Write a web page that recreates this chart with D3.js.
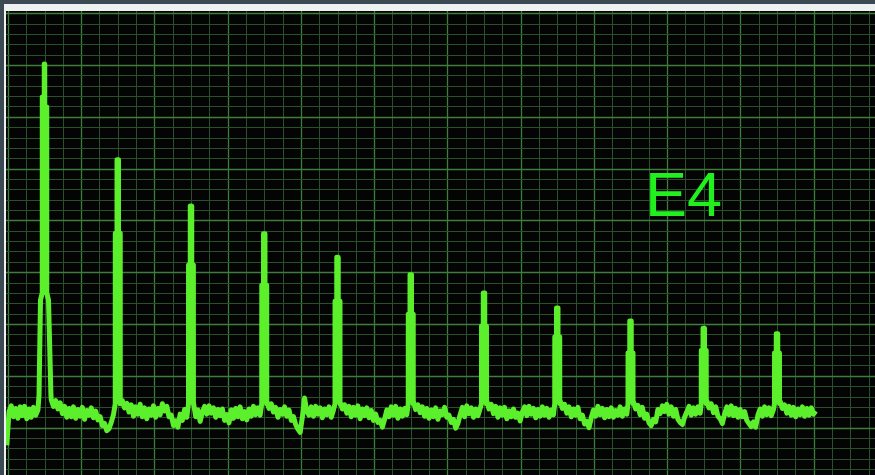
<!DOCTYPE html>
<html><head><meta charset="utf-8">
<script src="https://cdn.jsdelivr.net/npm/d3@7"></script>
<style>html,body{margin:0;padding:0;background:#3b4953;overflow:hidden}</style>
</head><body><svg id="c" width="875" height="475"></svg>
<script>
// ---- data ----
const noteLabel = "E4";
const fundamentalHz = 329.63;
const noiseStartHz = 160;
const noiseStepHz = 10;
// noise floor readings (dB) every 10 Hz; null where a harmonic peak trace takes over
const noiseDb = [
-83.4,-76.9,-75.8,-77.9,-76.3,-78.2,-76.0,-77.7,-75.9,-78.3,
-76.4,-78.0,-76.1,-77.6,-76.6,null,null,null,null,null,
-74.6,-75.9,-74.8,-76.4,-75.2,-77.3,-75.9,-78.0,-76.3,-77.9,
-76.0,-78.2,-76.5,-77.8,-76.1,-78.4,-76.7,-77.6,-76.2,-78.1,
-76.8,-78.5,-77.9,-79.6,-79.2,-80.6,-80.2,-79.0,-77.5,null,
null,null,-74.8,-76.2,-75.3,-77.0,-75.6,-77.8,-76.0,-77.4,
-75.5,-77.9,-76.2,-78.3,-76.4,-77.6,-75.8,-78.0,-76.3,-77.5,
-75.4,-76.8,-75.9,-77.9,-77.6,-79.6,-78.7,-79.9,-77.4,-78.6,
-76.5,-78.0,null,null,-75.2,-77.9,-76.6,-78.8,-77.0,-75.9,
-77.4,-75.8,-77.2,-76.2,-78.0,-76.5,-77.7,-76.4,-78.6,-77.5,
-79.1,-76.6,-78.2,-76.3,-77.9,-76.0,-78.3,-76.9,-78.5,-76.4,
-77.8,-75.9,-77.5,-76.2,-77.6,null,null,-74.9,-76.3,-75.4,
-77.0,-76.1,-78.0,-76.5,-77.4,-76.0,-77.8,-76.6,-78.6,-77.9,
-79.4,-80.3,-80.9,-78.0,-74.3,-76.9,-77.6,-76.0,-77.8,-75.9,
-77.4,-76.2,-78.1,-76.4,-77.5,-76.0,-78.0,-76.6,null,null,
-75.1,-76.4,-75.6,-77.2,-75.9,-77.9,-76.1,-77.6,-75.8,-78.3,
-76.4,-77.7,-76.2,-78.1,-76.7,-78.6,-77.4,-79.0,-78.6,-79.9,
-78.4,-76.6,-77.9,-76.0,-77.6,-75.9,-78.2,-76.4,-77.8,-76.3,
-77.5,null,null,-75.0,-76.5,-75.6,-77.1,-76.0,-77.8,-76.3,
-78.2,-76.6,-77.9,-76.2,-78.4,-76.8,-77.5,-76.1,-78.0,-77.6,
-79.0,-78.4,-80.1,-79.2,-77.5,-76.1,-77.9,-75.8,-77.3,-76.2,
-78.0,-76.4,-77.7,-76.3,null,null,-74.9,-76.4,-75.5,-77.3,
-75.9,-78.0,-76.2,-77.6,-76.1,-78.3,-76.8,-77.9,-76.4,-78.0,
-77.2,-78.7,-77.0,-76.0,-77.7,-75.9,-77.4,-76.3,-78.1,-76.5,
-77.8,-76.0,-77.6,-76.3,-78.0,-76.6,-77.5,null,null,-74.8,
-76.3,-75.5,-77.2,-76.0,-77.9,-76.4,-77.6,-76.1,-78.3,-77.6,
-79.3,-78.8,-80.0,-78.1,-76.6,-77.8,-75.9,-77.5,-76.3,-78.1,
-76.5,-77.9,-76.2,-78.0,-76.7,-77.6,-76.0,-77.8,-76.4,-77.4,
null,null,-75.0,-76.4,-75.7,-77.5,-76.1,-78.2,-77.4,-79.1,
-79.6,-78.4,-78.9,-76.5,-77.3,-75.8,-76.9,-75.5,-77.4,-76.0,
-77.8,-76.5,-78.4,-79.0,-79.4,-78.0,-77.0,-75.9,-77.6,-76.2,
-77.4,-76.0,-77.2,null,null,-74.8,-76.2,-75.4,-77.1,-76.0,
-77.8,-78.3,-79.2,-77.4,-76.0,-77.5,-75.8,-77.7,-76.3,-78.0,
-76.5,-77.9,-76.9,-78.6,-79.2,-79.8,-78.9,-79.9,-77.6,-76.4,
-77.8,-76.0,-77.5,-76.2,-77.7,-76.5,null,null,-74.9,-76.3,
-75.6,-77.2,-75.9,-77.6,-76.1,-77.9,-76.4,-77.5,-76.0,-77.8,
-76.3,-77.6,-76.2,-77.4,-76.8
];
// harmonic peak traces [Hz, dB]
const peakTraces = [
 [[305.0,-73.7],[311.6,-55.4],[319.5,-54.0],[319.6,-16.2],[328.5,-16.2],[328.6,-9.8],[330.7,-9.8],[330.8,-18.1],[339.7,-18.1],[339.8,-54.0],[347.6,-55.4],[358.6,-73.7]],
 [[648.0,-75.4],[648.2,-42.5],[655.9,-42.5],[656.0,-28.3],[662.6,-28.3],[662.7,-42.5],[670.4,-42.5],[670.6,-75.4]],
 [[977.6,-75.4],[977.8,-48.6],[985.5,-48.6],[985.6,-37.2],[992.2,-37.2],[992.3,-48.6],[999.6,-48.6],[999.8,-75.4]],
 [[1307.2,-75.4],[1307.4,-52.5],[1315.1,-52.5],[1315.2,-42.6],[1321.8,-42.6],[1321.9,-52.5],[1329.6,-52.5],[1329.8,-75.4]],
 [[1636.9,-75.4],[1637.1,-55.6],[1644.8,-55.6],[1644.9,-47.1],[1651.5,-47.1],[1651.6,-55.6],[1659.3,-55.6],[1659.5,-75.4]],
 [[1966.5,-75.4],[1966.7,-58.1],[1974.4,-58.1],[1974.5,-50.5],[1981.1,-50.5],[1981.2,-58.1],[1988.9,-58.1],[1989.1,-75.4]],
 [[2296.1,-75.4],[2296.3,-60.4],[2304.0,-60.4],[2304.1,-54.0],[2310.7,-54.0],[2310.8,-60.4],[2318.5,-60.4],[2318.7,-75.4]],
 [[2625.7,-75.4],[2625.9,-62.5],[2633.6,-62.5],[2633.7,-56.9],[2640.3,-56.9],[2640.4,-62.5],[2648.1,-62.5],[2648.3,-75.4]],
 [[2955.4,-75.4],[2955.6,-65.6],[2963.3,-65.6],[2963.4,-59.4],[2970.0,-59.4],[2970.1,-65.6],[2977.8,-65.6],[2978.0,-75.4]],
 [[3285.0,-75.4],[3285.2,-65.1],[3292.9,-65.1],[3293.0,-60.8],[3299.6,-60.8],[3299.7,-65.1],[3307.4,-65.1],[3307.6,-75.4]],
 [[3614.6,-75.4],[3614.8,-65.6],[3622.5,-65.6],[3622.6,-61.9],[3629.2,-61.9],[3629.3,-65.6],[3637.0,-65.6],[3637.2,-75.4]]
];
const dbDomain = [-90, 0];
const dbGridStep = 2, dbGridMajorEvery = 5;
const hzGridSubdiv = 4;

// ---- drawing ----
const W = 875, H = 475;
const plot = {left: 6, top: 11, right: 875, bottom: 475};
const svg = d3.select("#c");

const x = d3.scaleLinear().domain([0, 4000]).range([-28.75, 860.14]);
const y = d3.scaleLinear().domain(dbDomain).range([479.4, 13.2]);

// frame
svg.append("rect").attr("x", 4).attr("y", 4).attr("width", W - 4).attr("height", H - 4).attr("fill", "#eef0f1");
svg.append("rect").attr("x", plot.left).attr("y", plot.top)
  .attr("width", plot.right - plot.left).attr("height", plot.bottom - plot.top).attr("fill", "#030403");

svg.append("clipPath").attr("id", "pc").append("rect")
  .attr("x", plot.left).attr("y", plot.top)
  .attr("width", plot.right - plot.left).attr("height", plot.bottom - plot.top);

const g = svg.append("g").attr("clip-path", "url(#pc)");

// graticule
const vLines = d3.range(0, 48).map(j => ({hz: (j / hzGridSubdiv + 0.5) * fundamentalHz, major: j % hzGridSubdiv === 0}));
const hLines = d3.range(0, 46).map(k => ({db: -k * dbGridStep, major: k % dbGridMajorEvery === 0}));

g.selectAll(".vg").data(vLines).join("line")
  .attr("x1", d => Math.round(x(d.hz)) + 0.5).attr("x2", d => Math.round(x(d.hz)) + 0.5)
  .attr("y1", plot.top).attr("y2", plot.bottom)
  .attr("stroke", d => d.major ? "#3f7d3c" : "#27502b").attr("stroke-width", d => d.major ? 1.3 : 1);
g.selectAll(".hg").data(hLines).join("line")
  .attr("y1", d => Math.round(y(d.db)) + 0.5).attr("y2", d => Math.round(y(d.db)) + 0.5)
  .attr("x1", plot.left).attr("x2", plot.right)
  .attr("stroke", d => d.major ? "#3f7d3c" : "#27502b").attr("stroke-width", d => d.major ? 1.3 : 1);

// trace
const noisePts = noiseDb.map((v, i) => [noiseStartHz + i * noiseStepHz, v]).filter(d => d[1] !== null);
const pts = noisePts.concat(...peakTraces).sort((a, b) => a[0] - b[0]);

const line = d3.line().x(d => x(d[0])).y(d => y(d[1]));
g.append("path").datum(pts).attr("d", line)
  .attr("fill", "none").attr("stroke", "#5cf02c").attr("stroke-width", 5)
  .attr("stroke-linejoin", "round");

// label
svg.append("text").attr("x", 645).attr("y", 216).text(noteLabel)
  .attr("font-family", "'Liberation Sans', Arial, sans-serif").attr("font-size", 63)
  .attr("fill", "#22f01e");
</script>
</body></html>
